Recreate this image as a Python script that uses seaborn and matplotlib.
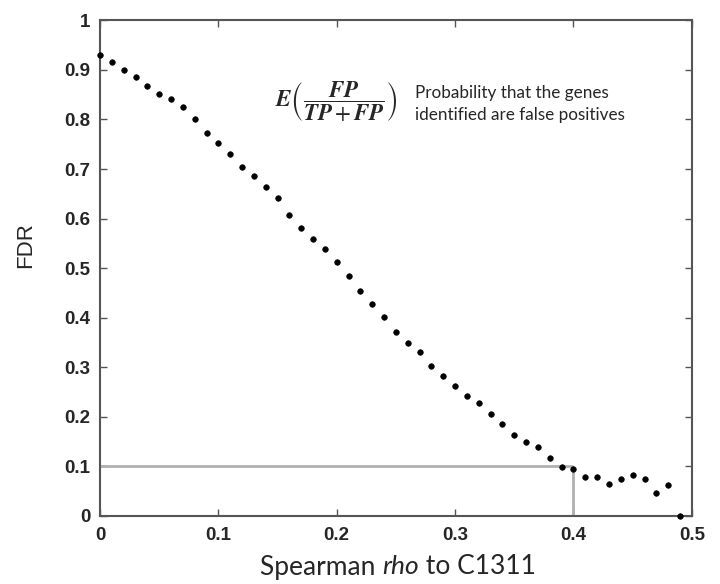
import numpy as np
import pandas as pd
import seaborn as sns
import matplotlib.pyplot as plt
from matplotlib.offsetbox import TextArea, HPacker, AnchoredOffsetbox

# data
rho = [0.00, 0.01, 0.02, 0.03, 0.04, 0.05, 0.06, 0.07, 0.08, 0.09,
       0.10, 0.11, 0.12, 0.13, 0.14, 0.15, 0.16, 0.17, 0.18, 0.19,
       0.20, 0.21, 0.22, 0.23, 0.24, 0.25, 0.26, 0.27, 0.28, 0.29,
       0.30, 0.31, 0.32, 0.33, 0.34, 0.35, 0.36, 0.37, 0.38, 0.39,
       0.40, 0.41, 0.42, 0.43, 0.44, 0.45, 0.46, 0.47, 0.48, 0.49]
fdr = [0.931, 0.917, 0.900, 0.886, 0.868, 0.851, 0.841, 0.825, 0.801, 0.773,
       0.752, 0.731, 0.705, 0.685, 0.663, 0.641, 0.607, 0.581, 0.559, 0.539,
       0.513, 0.483, 0.453, 0.427, 0.402, 0.370, 0.348, 0.331, 0.303, 0.283,
       0.262, 0.242, 0.227, 0.205, 0.185, 0.162, 0.149, 0.139, 0.117, 0.099,
       0.094, 0.079, 0.079, 0.063, 0.074, 0.082, 0.074, 0.046, 0.062, 0.0]
threshold_rho = 0.4
threshold_fdr = 0.1

x_ticks = [0, 0.1, 0.2, 0.3, 0.4, 0.5]
x_labels = ["0", "0.1", "0.2", "0.3", "0.4", "0.5"]
y_ticks = [0, 0.1, 0.2, 0.3, 0.4, 0.5, 0.6, 0.7, 0.8, 0.9, 1]
y_labels = ["0", "0.1", "0.2", "0.3", "0.4", "0.5", "0.6", "0.7", "0.8", "0.9", "1"]

df = pd.DataFrame({"rho": rho, "fdr": fdr})

sns.set_style("ticks")
plt.rcParams["font.family"] = ["Liberation Sans", "DejaVu Sans"]
plt.rcParams["mathtext.fontset"] = "stix"

fig = plt.figure(figsize=(7.2, 5.84), dpi=100)
ax = fig.add_axes([0.1389, 0.117, 0.822, 0.848])

# threshold guide lines
ax.hlines(threshold_fdr, 0, threshold_rho, color="#b0b0b0", lw=2, zorder=1)
ax.vlines(threshold_rho, 0, threshold_fdr, color="#b0b0b0", lw=2, zorder=1)

sns.scatterplot(data=df, x="rho", y="fdr", color="black", s=16,
                marker="o", edgecolor="black", linewidth=0.5, ax=ax,
                zorder=3, clip_on=False)

ax.set_xlim(0, 0.5)
ax.set_ylim(0, 1)
ax.set_xticks(x_ticks)
ax.set_xticklabels(x_labels, fontweight="bold", fontsize=13.5)
ax.set_yticks(y_ticks)
ax.set_yticklabels(y_labels, fontweight="bold", fontsize=13.5)
ax.tick_params(axis="x", pad=8)
ax.tick_params(axis="y", pad=7)
ax.tick_params(direction="in", length=5, width=1, color="#555555",
               top=True, right=True)
for sp in ax.spines.values():
    sp.set_color("#555555")
    sp.set_linewidth(1.5)

ax.set_xlabel("")
ax.set_ylabel("")
fig.text(26 / 720, 1 - 245 / 584, "FDR", rotation=90, fontsize=16,
         ha="center", va="center")

# x label with italic "rho"
lab_font = dict(fontsize=19, family=["Lato", "DejaVu Sans"])
parts = [TextArea("Spearman ", textprops=lab_font),
         TextArea("rho", textprops=dict(lab_font, style="italic")),
         TextArea(" to C1311", textprops=lab_font)]
box = HPacker(children=parts, align="baseline", pad=0, sep=0)
anchored = AnchoredOffsetbox(loc="center", child=box, frameon=False,
                             bbox_to_anchor=(398 / 720, 1 - 567 / 584),
                             bbox_transform=fig.transFigure, pad=0, borderpad=0)
fig.add_artist(anchored)

# formula annotation
ax.text(0.148, 0.836,
        r"$\mathbfit{E}\left(\dfrac{\mathbfit{FP}}{\mathbfit{TP}+\mathbfit{FP}}\right)$",
        fontsize=16.5, va="center", ha="left")
ax.text(0.266, 0.832, "Probability that the genes\nidentified are false positives",
        fontsize=12.3, va="center", ha="left", linespacing=1.45,
        family=["Lato", "DejaVu Sans"])

plt.savefig("out.png", dpi=100)
